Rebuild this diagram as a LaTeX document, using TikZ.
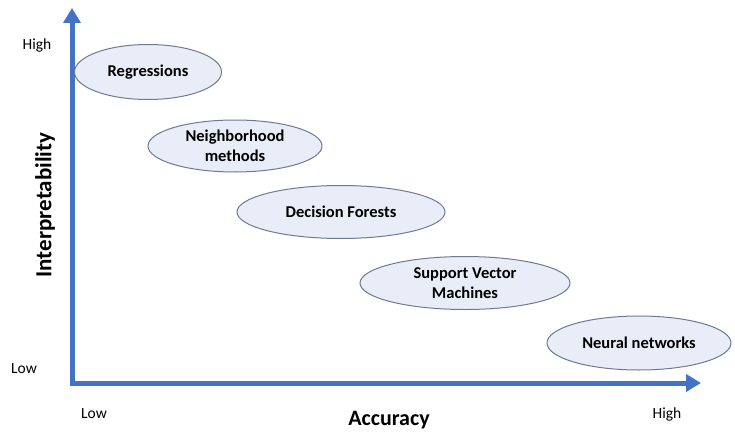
\documentclass[tikz,border=0pt]{standalone}
\usepackage{fontspec}
\setmainfont{Carlito}
\usetikzlibrary{shapes.geometric,arrows.meta}
\definecolor{axisblue}{HTML}{4472C4}
\definecolor{ovalfill}{HTML}{E9EDF7}
\definecolor{ovaledge}{HTML}{6E7A8E}
\tikzset{
  method/.style={ellipse, draw=ovaledge, fill=ovalfill, line width=1pt, inner sep=0pt,
    align=center, font=\fontsize{16.5}{20}\selectfont\bfseries},
  tick/.style={font=\fontsize{15.5}{18}\selectfont},
  axislabel/.style={font=\fontsize{22}{26}\selectfont\bfseries}
}
\begin{document}
\begin{tikzpicture}[x=1pt,y=-1pt]
      \useasboundingbox (0,0) rectangle (735,433);
      \coordinate (o) at (72,383);
      \coordinate (ytop) at (72,8);
      \coordinate (xend) at (701,383);
      \draw [-{Triangle[length=15pt,width=17pt]}, line width=5pt, axisblue] ([yshift=-2.5pt]o) -- (ytop);
      \draw [-{Triangle[length=15pt,width=17pt]}, line width=5pt, axisblue] ([xshift=-2.5pt]o) -- (xend);
      % methods
      \node [method, minimum width=147pt, minimum height=55pt] (reg) at (148,72) {Regressions};
      \node [method, minimum width=174pt, minimum height=52pt] (nbh) at (235,146) {Neighborhood\\methods};
      \node [method, minimum width=208pt, minimum height=53pt] (forest) at (341,212) {Decision Forests};
      \node [method, minimum width=210pt, minimum height=53pt] (svm) at (465,283) {Support Vector\\Machines};
      \node [method, minimum width=184pt, minimum height=54pt] (nn) at (639,343) {Neural networks};
      % axis texts
      \node [tick] (yhigh) at (37,45) {High};
      \node [tick] (ylow) at (24,369) {Low};
      \node [tick] (xlow) at (94,414) {Low};
      \node [tick] (xhigh) at (667,414) {High};
      \node [axislabel] (acc) at (389,420) {Accuracy};
      \node [axislabel, font=\fontsize{23}{26}\selectfont\bfseries, rotate=90] (interp) at (45,205) {Interpretability};
    \end{tikzpicture}
\end{document}
